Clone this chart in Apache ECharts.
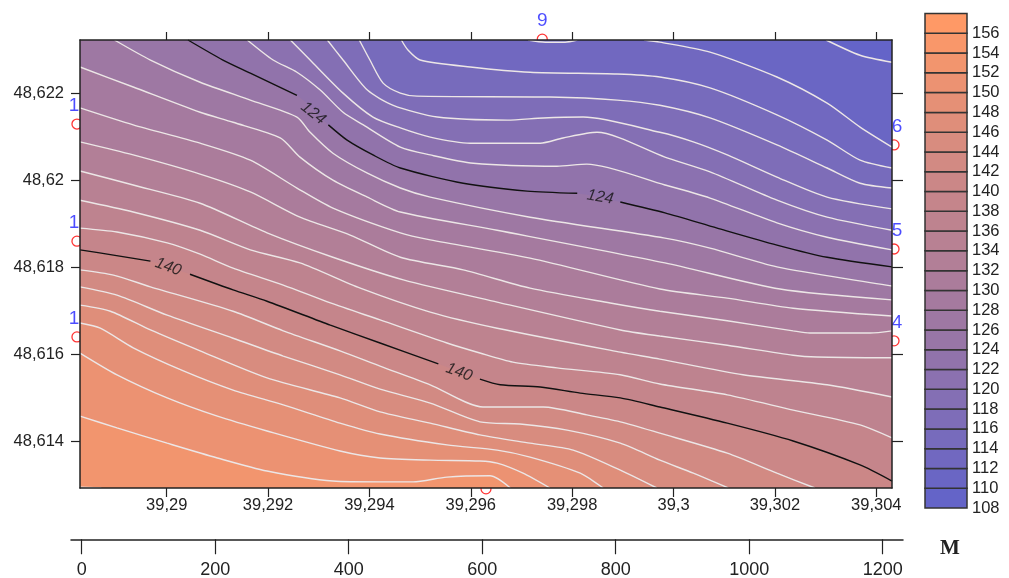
<!DOCTYPE html>
<html>
<head>
<meta charset="utf-8">
<style>html,body{margin:0;padding:0;background:#fff}#c{width:1009px;height:578px}</style>
<script src="https://cdn.jsdelivr.net/npm/echarts@6/dist/echarts.min.js"></script>
</head>
<body>
<div id="c"></div>
<script>
// Map extent and tick labels
const lonMin = 39.28829, lonMax = 39.30431, latMin = 48.61293, latMax = 48.62322;
const lonTicks = [39.29, 39.292, 39.294, 39.296, 39.298, 39.3, 39.302, 39.304];
const latTicks = [48.614, 48.616, 48.618, 48.62, 48.622];
const distanceTicks = [0, 200, 400, 600, 800, 1000, 1200];
const colorbarLevels = [108,110,112,114,116,118,120,122,124,126,128,130,132,134,136,138,140,142,144,146,148,150,152,154,156];

// Contour polylines [lon, lat]
const c110 = [[39.30301,48.62322],[39.30368,48.62287],[39.30431,48.62271]];
const c112a = [[39.29713,48.62322],[39.29747,48.62317],[39.29786,48.62317],[39.29810,48.62322]];
const c112b = [[39.29942,48.62322],[39.29973,48.62317],[39.30072,48.62294],[39.30204,48.62237],[39.30303,48.62177],[39.30368,48.62122],[39.30431,48.62076]];
const c114 = [[39.29463,48.62322],[39.29476,48.62299],[39.29500,48.62276],[39.29599,48.62260],[39.29717,48.62248],[39.29889,48.62244],[39.29973,48.62237],[39.30072,48.62212],[39.30204,48.62150],[39.30303,48.62092],[39.30368,48.62046],[39.30431,48.62028]];
const c116 = [[39.29380,48.62322],[39.29401,48.62276],[39.29427,48.62223],[39.29461,48.62200],[39.29494,48.62193],[39.29756,48.62191],[39.29889,48.62184],[39.29973,48.62172],[39.30072,48.62143],[39.30204,48.62081],[39.30303,48.62028],[39.30368,48.61993],[39.30431,48.61982]];
const c118 = [[39.29317,48.62322],[39.29348,48.62276],[39.29396,48.62207],[39.29447,48.62172],[39.29534,48.62145],[39.29672,48.62138],[39.29743,48.62143],[39.29822,48.62145],[39.29973,48.62110],[39.30039,48.62088],[39.30106,48.62058],[39.30204,48.62007],[39.30303,48.61961],[39.30431,48.61934]];
const c120 = [[39.29244,48.62322],[39.29283,48.62276],[39.29348,48.62200],[39.29407,48.62145],[39.29461,48.62120],[39.29520,48.62099],[39.29599,48.62085],[39.29737,48.62085],[39.29782,48.62097],[39.29849,48.62110],[39.29983,48.62053],[39.30072,48.62019],[39.30204,48.61954],[39.30303,48.61915],[39.30431,48.61885]];
const c122 = [[39.29159,48.62322],[39.29210,48.62276],[39.29257,48.62248],[39.29303,48.62207],[39.29348,48.62156],[39.29388,48.62127],[39.29461,48.62076],[39.29520,48.62058],[39.29605,48.62039],[39.29770,48.62032],[39.29829,48.62037],[39.29983,48.61989],[39.30072,48.61959],[39.30204,48.61902],[39.30303,48.61869],[39.30431,48.61840]];
const c124a = [[39.29042,48.62322],[39.29111,48.62276],[39.29165,48.62246],[39.29257,48.62195]];
const c124b = [[39.29319,48.62127],[39.29356,48.62092],[39.29407,48.62058],[39.29461,48.62028],[39.29585,48.61993],[39.29711,48.61975],[39.29810,48.61970]];
const c124c = [[39.29895,48.61950],[39.29983,48.61925],[39.30086,48.61890],[39.30204,48.61851],[39.30303,48.61823],[39.30431,48.61801]];
const c126 = [[39.28897,48.62322],[39.28968,48.62276],[39.29066,48.62225],[39.29165,48.62184],[39.29257,48.62145],[39.29283,48.62110],[39.29328,48.62062],[39.29396,48.62016],[39.29461,48.61982],[39.29520,48.61961],[39.29717,48.61915],[39.29983,48.61867],[39.30072,48.61844],[39.30204,48.61801],[39.30431,48.61757]];
const c128 = [[39.28829,48.62260],[39.28934,48.62214],[39.29066,48.62156],[39.29131,48.62133],[39.29224,48.62097],[39.29263,48.62053],[39.29328,48.62000],[39.29396,48.61961],[39.29461,48.61927],[39.29652,48.61885],[39.29983,48.61810],[39.30210,48.61750],[39.30431,48.61725]];
const c130 = [[39.28829,48.62166],[39.28934,48.62127],[39.29066,48.62085],[39.29165,48.62046],[39.29257,48.61982],[39.29328,48.61936],[39.29461,48.61879],[39.29520,48.61863],[39.29717,48.61821],[39.29973,48.61750],[39.30106,48.61729],[39.30236,48.61706],[39.30431,48.61688]];
const c132 = [[39.28829,48.62088],[39.28934,48.62058],[39.29066,48.62014],[39.29165,48.61973],[39.29263,48.61915],[39.29362,48.61874],[39.29461,48.61823],[39.29585,48.61794],[39.29717,48.61752],[39.29875,48.61718],[39.29973,48.61699],[39.30106,48.61677],[39.30236,48.61654],[39.30269,48.61649],[39.30388,48.61649],[39.30431,48.61654]];
const c134 = [[39.28829,48.62021],[39.28934,48.61989],[39.29066,48.61947],[39.29198,48.61879],[39.29328,48.61823],[39.29467,48.61771],[39.29652,48.61720],[39.29895,48.61656],[39.29973,48.61642],[39.30106,48.61621],[39.30236,48.61598],[39.30283,48.61594],[39.30431,48.61592]];
const c136 = [[39.28829,48.61954],[39.28934,48.61927],[39.29066,48.61885],[39.29165,48.61840],[39.29263,48.61810],[39.29382,48.61752],[39.29520,48.61697],[39.29652,48.61660],[39.29895,48.61605],[39.29973,48.61589],[39.30137,48.61553],[39.30303,48.61530],[39.30431,48.61502]];
const c138 = [[39.28829,48.61890],[39.28902,48.61881],[39.29001,48.61856],[39.29066,48.61830],[39.29131,48.61798],[39.29230,48.61759],[39.29323,48.61718],[39.29421,48.61679],[39.29553,48.61626],[39.29618,48.61603],[39.29683,48.61582],[39.29770,48.61569],[39.29895,48.61553],[39.29973,48.61532],[39.30106,48.61507],[39.30236,48.61472],[39.30368,48.61438],[39.30431,48.61408]];
const c140a = [[39.28829,48.61840],[39.28895,48.61828],[39.28968,48.61814]];
const c140b = [[39.29046,48.61784],[39.29131,48.61748],[39.29198,48.61722],[39.29323,48.61667],[39.29421,48.61626],[39.29536,48.61578]];
const c140c = [[39.29618,48.61543],[39.29658,48.61530],[39.29737,48.61525],[39.29816,48.61511],[39.29895,48.61500],[39.29973,48.61479],[39.30106,48.61442],[39.30236,48.61401],[39.30368,48.61346],[39.30431,48.61309]];
const c142 = [[39.28829,48.61794],[39.28895,48.61782],[39.28968,48.61755],[39.29131,48.61699],[39.29230,48.61654],[39.29342,48.61608],[39.29421,48.61573],[39.29520,48.61530],[39.29624,48.61479],[39.29743,48.61479],[39.29829,48.61461],[39.29895,48.61445],[39.29973,48.61419],[39.30106,48.61373],[39.30204,48.61327],[39.30279,48.61293]];
const c144 = [[39.28829,48.61755],[39.28902,48.61736],[39.29001,48.61690],[39.29131,48.61637],[39.29230,48.61596],[39.29342,48.61553],[39.29421,48.61520],[39.29520,48.61488],[39.29618,48.61445],[39.29697,48.61440],[39.29790,48.61426],[39.29895,48.61396],[39.29973,48.61357],[39.30039,48.61327],[39.30108,48.61293]];
const c146 = [[39.28829,48.61713],[39.28889,48.61699],[39.28968,48.61656],[39.29066,48.61608],[39.29198,48.61546],[39.29342,48.61500],[39.29421,48.61468],[39.29520,48.61442],[39.29618,48.61415],[39.29717,48.61396],[39.29802,48.61380],[39.29895,48.61334],[39.29967,48.61293]];
const c148 = [[39.28829,48.61672],[39.28869,48.61660],[39.28934,48.61615],[39.29033,48.61562],[39.29131,48.61518],[39.29230,48.61484],[39.29342,48.61442],[39.29421,48.61417],[39.29553,48.61392],[39.29652,48.61380],[39.29717,48.61364],[39.29816,48.61327],[39.29861,48.61293]];
const c150 = [[39.28829,48.61603],[39.28902,48.61553],[39.29001,48.61500],[39.29100,48.61458],[39.29198,48.61424],[39.29342,48.61378],[39.29421,48.61362],[39.29520,48.61357],[39.29618,48.61355],[39.29652,48.61350],[39.29703,48.61327],[39.29756,48.61293]];
const c152 = [[39.28829,48.61458],[39.28902,48.61431],[39.29001,48.61396],[39.29100,48.61362],[39.29198,48.61332],[39.29328,48.61309],[39.29421,48.61307],[39.29486,48.61307],[39.29553,48.61318],[39.29638,48.61321],[39.29678,48.61293]];
const c154 = [[39.28829,48.61295],[39.28871,48.61293]];

const contours = [
  {level:110, segments:[c110]}, {level:112, segments:[c112a]}, {level:112, segments:[c112b]},
  {level:114, segments:[c114]}, {level:116, segments:[c116]}, {level:118, segments:[c118]},
  {level:120, segments:[c120]}, {level:122, segments:[c122]},
  {level:124, segments:[c124a,c124b,c124c], major:true},
  {level:126, segments:[c126]}, {level:128, segments:[c128]}, {level:130, segments:[c130]},
  {level:132, segments:[c132]}, {level:134, segments:[c134]}, {level:136, segments:[c136]}, {level:138, segments:[c138]},
  {level:140, segments:[c140a,c140b,c140c], major:true},
  {level:142, segments:[c142]}, {level:144, segments:[c144]}, {level:146, segments:[c146]},
  {level:148, segments:[c148]}, {level:150, segments:[c150]}, {level:152, segments:[c152]}, {level:154, segments:[c154]}
];

// Contour labels [lon, lat, text, rotation]
const contourLabels = [
  [39.29289,48.62154,'124',-38],[39.29855,48.61961,'124',-10],
  [39.29003,48.61801,'140',-20],[39.29577,48.61559,'140',-20]
];
// Stations [lon, lat, text]
const stations = [
  [39.28823,48.62129,'1'],[39.28823,48.61860,'1'],[39.28823,48.61640,'1'],
  [39.29741,48.62324,'9'],[39.30435,48.62081,'6'],[39.30435,48.61842,'5'],[39.30435,48.61631,'4'],
  [39.29630,48.61291,'']
];

function bandColor(level){
  const t=(level-108)/48;
  const a=[100,100,200], b=[255,153,102];
  return 'rgb('+a.map((v,i)=>Math.round(v+(b[i]-v)*t)).join(',')+')';
}
const axisFont = {fontFamily:'Liberation Sans', fontSize:16.5, color:'#222'};
const comma = v => String(v).replace('.',',');
const lineDark = {lineStyle:{color:'#222',width:1.5}};
const tickDark = l => ({show:true,length:l,lineStyle:{color:'#222',width:1.2}});
const smoothing = {smooth:0.25};

const series = [];
// stations sit under the map fill, so only the part outside the frame shows
series.push({
  type:'scatter', xAxisIndex:0, yAxisIndex:0, z:1, clip:false, silent:true,
  symbol:'circle', symbolSize:10,
  itemStyle:{color:'rgba(0,0,0,0)',borderColor:'#f00',borderWidth:1.3},
  data:stations.map(s=>({value:[s[0],s[1]],name:s[2]})),
  label:{show:true,position:'top',distance:3,
    offset:[0,0],
    formatter:p=>p.name,color:'#1f1fff',fontFamily:'Liberation Sans',fontSize:19}
});
series[0].data.forEach(d=>{
  if(d.value[0]<lonMin) d.label={offset:[-3,0]};
  if(d.value[0]>lonMax) d.label={offset:[3,0]};
});
// filled bands: painted from the highest contour to the lowest, each filling to the top of the frame
contours.slice().sort((a,b)=>b.level-a.level).forEach(c=>{
  const pts=[].concat(...c.segments);
  const last=pts[pts.length-1];
  if(last[1]<=latMin) pts.push([lonMax,latMin]);
  series.push({
    type:'line', xAxisIndex:0, yAxisIndex:0, z:2, silent:true, symbol:'none',
    data:pts, lineStyle:{width:0,opacity:0}, ...smoothing,
    areaStyle:{origin:'end',opacity:1,color:bandColor(c.level-2)}
  });
});
// contour strokes
contours.forEach(c=>{
  c.segments.forEach(seg=>{
    series.push({
      type:'line', xAxisIndex:0, yAxisIndex:0, z:3, silent:true, symbol:'none', data:seg, ...smoothing,
      lineStyle:c.major?{color:'#111',width:1.4}:{color:'#ece6e6',width:1.4}
    });
  });
});
// contour labels
contourLabels.forEach(l=>{
  series.push({
    type:'scatter', xAxisIndex:0, yAxisIndex:0, z:4, silent:true, symbol:'circle', symbolSize:1,
    itemStyle:{color:'rgba(0,0,0,0)'}, data:[[l[0],l[1]]],
    label:{show:true,position:'inside',formatter:l[2],rotate:l[3],color:'#111',fontFamily:'Liberation Sans',fontStyle:'italic',fontSize:16}
  });
});
// colour bar
series.push({
  type:'custom', xAxisIndex:3, yAxisIndex:3, z:2, silent:true,
  data:colorbarLevels.map(v=>[0,v,1,v+2]),
  renderItem:(params,api)=>{
    const p0=api.coord([api.value(0),api.value(1)]), p1=api.coord([api.value(2),api.value(3)]);
    return {type:'rect',shape:{x:p0[0],y:p1[1],width:p1[0]-p0[0],height:p0[1]-p1[1]},
      style:{fill:bandColor(api.value(1)),stroke:'#333',lineWidth:1.5}};
  }
});

const chart = echarts.init(document.getElementById('c'),null,{renderer:'canvas'});
chart.setOption({
  animation:false,
  backgroundColor:'#fff',
  title:{text:'M',left:935,top:533,textStyle:{fontFamily:'Liberation Serif',fontWeight:'bold',fontSize:21,color:'#222'}},
  grid:[
    {left:80,top:40,width:812,height:448,show:true,borderWidth:0,backgroundColor:bandColor(154)},
    {left:71,top:539,width:832,height:1},
    {left:925,top:13.5,width:42,height:494.5}
  ],
  xAxis:[
    {type:'value',gridIndex:0,position:'bottom',min:lonMin,max:lonMax,z:10,splitLine:{show:false},
      axisLine:{show:true,...lineDark},axisTick:{...tickDark(9),customValues:lonTicks},
      axisLabel:{...axisFont,margin:9,formatter:comma,customValues:lonTicks}},
    {type:'value',gridIndex:0,position:'top',min:lonMin,max:lonMax,z:10,splitLine:{show:false},
      axisLine:{show:true,...lineDark},axisTick:{...tickDark(8),customValues:lonTicks},
      axisLabel:{show:false}},
    {type:'value',gridIndex:1,position:'bottom',min:-16,max:1230.4,z:10,splitLine:{show:false},
      axisLine:{show:true,...lineDark},axisTick:{...tickDark(15),customValues:distanceTicks},
      axisLabel:{fontFamily:'Liberation Sans',fontSize:18,color:'#222',margin:22,formatter:v=>String(v),customValues:distanceTicks}},
    {type:'value',gridIndex:2,min:0,max:1,show:false}
  ],
  yAxis:[
    {type:'value',gridIndex:0,position:'left',min:latMin,max:latMax,z:10,splitLine:{show:false},
      axisLine:{show:true,...lineDark},axisTick:{...tickDark(9),customValues:latTicks},
      axisLabel:{...axisFont,margin:16,formatter:comma,customValues:latTicks}},
    {type:'value',gridIndex:0,position:'right',min:latMin,max:latMax,z:10,splitLine:{show:false},
      axisLine:{show:true,...lineDark},axisTick:{...tickDark(11),customValues:latTicks},
      axisLabel:{show:false}},
    {type:'value',gridIndex:1,min:0,max:1,show:false},
    {type:'value',gridIndex:2,position:'right',min:108,max:158,splitLine:{show:false},
      axisLine:{show:false},axisTick:{show:false},
      axisLabel:{...axisFont,margin:5,formatter:v=>String(v),customValues:colorbarLevels}}
  ],
  series
});
</script>
</body>
</html>
